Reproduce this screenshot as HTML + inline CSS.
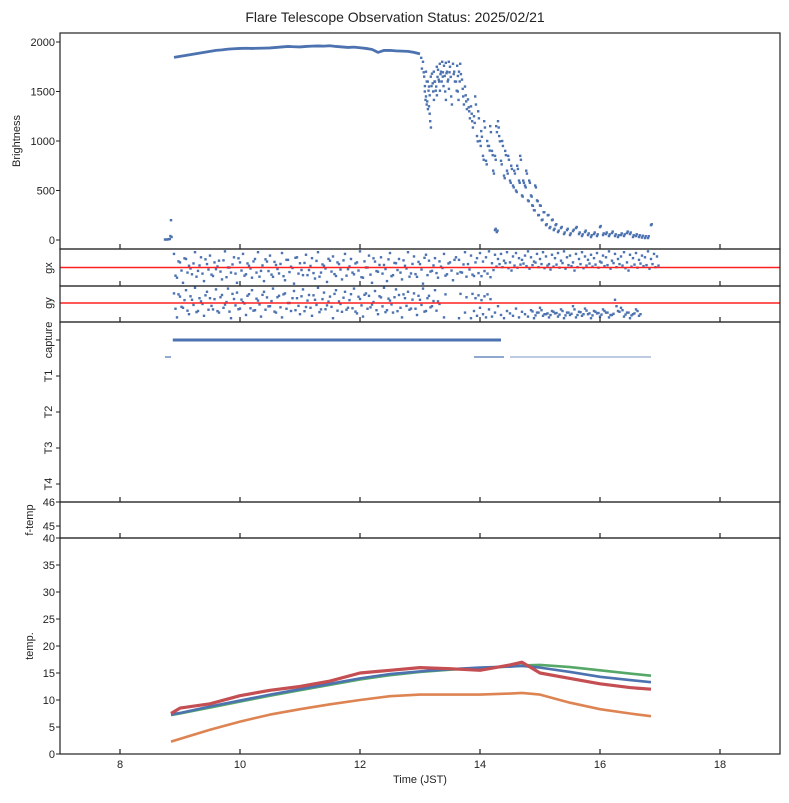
<!DOCTYPE html>
<html><head><meta charset="utf-8"><style>
body{margin:0;background:#fff}
svg text{font-family:"Liberation Sans",sans-serif;fill:#222}
</style></head><body>
<svg id="c" width="789" height="798" viewBox="0 0 789 798" xmlns="http://www.w3.org/2000/svg">
<text x="395" y="22" font-size="14" text-anchor="middle">Flare Telescope Observation Status: 2025/02/21</text>
<g id="marks"></g>
<g id="axes"></g>
</svg>
<script>
const xTicks=[8,10,12,14,16,18];
const bTicksV=[0,500,1000,1500,2000];
const tempTicks=[0,5,10,15,20,25,30,35,40];
// brightness plateau (8.9..13.0 step 0.1)
const plateauStart=8.9;
const plateauVals=[1845,1855,1865,1875,1885,1895,1905,1915,1920,1928,1932,1935,1937,1935,1937,1938,1940,1945,1950,1955,1952,1950,1955,1958,1960,1958,1962,1955,1950,1945,1948,1942,1935,1925,1895,1915,1915,1910,1908,1905,1895,1880];
const earlyT=[8.75,8.77,8.79,8.81,8.83,8.84,8.85,8.86];
const earlyV=[5,5,5,8,10,40,200,30];
const scatT=[13.02,13.05,13.07,13.08,13.1,13.1,13.12,13.13,13.15,13.15,13.17,13.18,13.2,13.22,13.23,13.25,13.27,13.28,13.3,13.32,13.33,13.35,13.37,13.38,13.4,13.42,13.43,13.45,13.47,13.48,13.5,13.52,13.55,13.57,13.6,13.62,13.63,13.65,13.67,13.7,13.72,13.75,13.77,13.8,13.82,13.85,13.87,13.9,13.92,13.95,13.97,14.0,14.02,14.05,14.07,14.1,14.12,14.15,14.17,14.2,14.22,14.25,14.27,14.3,14.32,14.35,14.37,14.4,14.42,14.45,14.47,14.5,14.52,14.55,14.57,14.6,14.62,14.65,14.67,14.7,14.72,14.75,14.77,14.8,14.82,14.85,14.87,14.9,14.92,14.95,14.97,15.0,15.03,15.06,15.1,15.13,15.16,15.2,15.23,15.26,15.3,15.35,15.4,15.45,15.5,15.55,15.6,15.65,15.7,15.75,15.8,15.85,15.9,15.95,16.0,16.05,16.1,16.15,16.2,16.25,16.3,16.35,16.4,16.45,16.5,16.55,16.6,16.65,16.7,16.75,16.8,16.85,14.25,14.28,14.3,14.33];
const scatV=[1840,1800,1650,1500,1700,1450,1400,1600,1350,1550,1200,1650,1680,1500,1700,1600,1550,1750,1720,1600,1780,1700,1800,1650,1760,1500,1790,1700,1620,1800,1750,1450,1780,1700,1600,1760,1500,1700,1780,1620,1450,1550,1400,1420,1300,1350,1200,1250,1450,1050,1300,1000,1100,850,1200,800,1000,950,1150,900,700,850,1150,1200,1050,800,1000,650,900,700,850,600,750,550,700,500,750,600,850,450,600,550,700,400,600,450,350,300,550,400,250,350,200,280,150,250,120,200,100,150,80,120,60,100,50,90,120,60,40,80,50,30,60,40,130,50,60,40,70,40,30,50,40,70,60,30,40,30,25,20,20,150,100,80];
// guider gx/gy: times 8.9 step 0.05 (160 samples), normalized offset -1..1
const gStart=8.9, gStep=0.05;
const gxVals=[0.8,-0.6,0.3,-0.9,0.5,0.1,-0.4,0.9,-0.2,0.6,-0.8,0.2,0.7,-0.5,-0.1,0.4,-0.7,0.95,0.0,-0.3,0.6,-0.9,0.3,0.8,-0.4,0.1,-0.6,0.5,0.9,-0.2,-0.8,0.35,0.7,-0.55,0.15,-0.35,0.85,-0.75,0.45,0.05,-0.95,0.6,0.25,-0.45,0.75,-0.15,0.55,-0.65,0.9,-0.3,0.1,-0.85,0.4,0.65,-0.5,0.2,-0.7,0.8,-0.1,0.5,-0.4,0.3,0.95,-0.6,0.0,0.7,-0.9,0.35,-0.25,0.6,0.15,-0.8,0.85,-0.45,0.25,0.5,-0.7,0.1,0.9,-0.35,0.65,-0.55,0.2,-0.95,0.75,0.4,-0.2,0.55,-0.6,0.05,0.8,-0.4,0.3,-0.75,0.6,0.45,-0.3,0.9,0.2,0.7,-0.5,0.55,0.85,0.35,0.6,0.95,0.25,0.75,0.5,0.8,0.4,0.9,0.3,0.65,0.85,0.55,0.45,0.7,0.95,0.6,0.35,0.8,0.5,0.9,0.65,0.2,0.75,0.55,0.85,0.4,0.95,0.6,0.7,0.3,0.8,0.5,0.9,0.65,0.45,0.75,0.55,0.85,0.35,0.7,0.6,0.95,0.4,0.8,0.5,0.65,0.9,0.3,0.75,0.55,0.85,0.45,0.7,0.6,0.95,0.5,0.8,0.65];
const gyVals=[0.6,-0.9,0.4,-0.3,0.8,-0.7,0.2,0.95,-0.5,0.1,-0.8,0.7,0.3,-0.4,0.85,-0.6,0.5,-0.1,0.9,-0.95,0.25,0.65,-0.35,0.05,-0.75,0.55,0.8,-0.45,0.15,-0.85,0.7,0.35,-0.2,0.9,-0.6,0.45,-0.9,0.6,0.0,-0.5,0.75,0.3,-0.7,0.85,-0.25,0.5,-0.8,0.2,0.95,-0.4,0.65,-0.15,0.4,-0.95,0.8,0.1,-0.55,0.7,-0.3,0.55,0.9,-0.65,0.25,-0.85,0.6,0.45,-0.1,0.75,-0.7,0.35,0.95,-0.45,0.15,-0.6,0.85,0.5,-0.9,0.3,0.7,-0.35,0.6,-0.75,0.2,0.9,-0.5,0.45,-0.2,0.8,0.1,null,-0.9,null,null,null,null,-0.95,null,-0.6,null,-0.95,-0.5,-0.8,-0.3,-0.7,-0.9,-0.4,-0.85,-0.6,-0.2,-0.75,-0.95,-0.5,-0.65,-0.8,-0.35,-0.9,-0.55,-0.7,-0.85,-0.45,-0.95,-0.6,-0.3,-0.8,-0.7,-0.9,-0.5,-0.65,-0.85,-0.4,-0.95,-0.6,-0.75,-0.2,-0.9,-0.55,-0.8,-0.35,-0.7,-0.95,-0.5,-0.65,-0.85,-0.4,-0.6,-0.9,-0.75,0.2,-0.5,-0.3,-0.85,-0.6,-0.95,-0.7,-0.4,-0.8];
// capture segments
const capStart=[8.88], capEnd=[14.35];
const t1Start=[8.75,13.9,14.5], t1End=[8.85,14.4,16.85];
// temperatures
const tempT=[8.85,9,9.5,10,10.5,11,11.5,12,12.5,13,13.5,14,14.5,14.7,15,15.5,16,16.5,16.85];
const tempBlue=[7.3,7.6,8.8,9.9,11,12,13,14,14.8,15.3,15.7,16,16.2,16.3,16,15.2,14.3,13.7,13.3];
const tempGreen=[7.2,7.5,8.6,9.7,10.8,11.8,12.8,13.8,14.6,15.2,15.6,15.9,16.2,16.4,16.5,16.1,15.5,14.9,14.5];
const tempRed=[7.5,8.5,9.3,10.8,11.8,12.5,13.5,15,15.5,16,15.8,15.5,16.5,17,15,14,13,12.3,12];
const tempOrange=[2.3,2.8,4.5,6,7.3,8.3,9.2,10,10.7,11,11,11,11.2,11.3,11,9.5,8.3,7.5,7];

const NS="http://www.w3.org/2000/svg";
const L=60,R=780;
const X=t=>L+(t-7)*(R-L)/12;
const panels=[[33,249],[249,286],[286,322],[322,502],[502,538],[538,754]];
const yB=v=>240-v*(198/2000);
const yGx=v=>267.5-v*17;
const yGy=v=>303-v*16;
const yT=v=>754-v*(216/40);
const marks=document.getElementById('marks'), axes=document.getElementById('axes');
function mk(tag,attrs,parent){const e=document.createElementNS(NS,tag);for(const k in attrs)e.setAttribute(k,attrs[k]);parent.appendChild(e);return e;}
const BLUE='#4c72b0';
function dot(t,y,name){if(!isFinite(y)||!isFinite(t))return;const e=mk('rect',{x:X(t)-1.2,y:y-1.2,width:2.4,height:2.4,fill:BLUE},marks);

}
// brightness
const pp=plateauVals.map((v,i)=>X(plateauStart+i*0.1)+','+yB(v)).join(' ');
const pl=mk('polyline',{points:pp,fill:'none',stroke:BLUE,'stroke-width':2.8},marks);


earlyT.forEach((t,i)=>dot(t,yB(earlyV[i]),'brightness-point'));
scatT.forEach((t,i)=>{if(scatV[i]===undefined)return;dot(t,yB(scatV[i]),'brightness-point');dot(t+0.012,yB(scatV[i]*0.93+20),'brightness-point');});
// guider
gxVals.forEach((v,i)=>{if(v===null)return;const t=gStart+i*gStep;dot(t,yGx(v),'gx-point');dot(t+0.025,yGx(-v*0.6+(v>0.3&&t>14.2?0.5:0)),'gx-point');});
gyVals.forEach((v,i)=>{if(v===null)return;const t=gStart+i*gStep;dot(t,yGy(v),'gy-point');if(t<14.2||t>14.8)dot(t+0.025,yGy(t>14.8?v*0.5-0.3:-v*0.6),'gy-point');});
[[249,286,267.5,'gx-reference-line'],[286,322,303,'gy-reference-line']].forEach(([a,b,y,n])=>{
const l=mk('line',{x1:L,x2:R,y1:y,y2:y,stroke:'#ff2020','stroke-width':1.5},marks);

});
// capture
capStart.forEach((s,i)=>{const l=mk('line',{x1:X(s),x2:X(capEnd[i]),y1:340,y2:340,stroke:BLUE,'stroke-width':3},marks);

});
t1Start.forEach((s,i)=>{const l=mk('line',{x1:X(s),x2:X(t1End[i]),y1:357,y2:357,stroke:BLUE,'stroke-width':i===2?0.8:1.2},marks);

});
// temps
[[tempGreen,'#55a868','temp-green'],[tempBlue,BLUE,'temp-blue'],[tempOrange,'#dd8452','temp-orange'],[tempRed,'#c44e52','temp-red']].forEach(([arr,c,n])=>{
const l=mk('polyline',{points:arr.map((v,i)=>X(tempT[i])+','+yT(v)).join(' '),fill:'none',stroke:c,'stroke-width':n==='temp-red'?3.2:2.6,'stroke-linejoin':'round'},marks);

});
// axes frames
const pnames=['brightness-panel','gx-panel','gy-panel','status-panel','f-temp-panel','temp-panel'];
panels.forEach(([a,b],i)=>{const r=mk('rect',{x:L,y:a,width:R-L,height:b-a,fill:'none',stroke:'#222','stroke-width':1.2},axes);


xTicks.forEach(t=>{mk('line',{x1:X(t),x2:X(t),y1:b,y2:b-5,stroke:'#222','stroke-width':1.2},axes);});});
function txt(s,x,y,opts,name){const e=mk('text',Object.assign({x:x,y:y,'font-size':11},opts||{}),axes);e.textContent=s;

return e;}
xTicks.forEach(t=>txt(String(t),X(t),768,{'text-anchor':'middle'},'x-tick-label'));
txt('Time (JST)',420,783,{'text-anchor':'middle'},'x-axis-title');
bTicksV.forEach(v=>{mk('line',{x1:L,x2:L-4,y1:yB(v),y2:yB(v),stroke:'#222'},axes);txt(String(v),55,yB(v)+4,{'text-anchor':'end'},'brightness-tick-label');});
tempTicks.forEach(v=>{mk('line',{x1:L,x2:L-4,y1:yT(v),y2:yT(v),stroke:'#222'},axes);txt(String(v),55,yT(v)+4,{'text-anchor':'end'},'temp-tick-label');});
[[46,502],[45,526]].forEach(([v,y])=>{mk('line',{x1:L,x2:L-4,y1:y,y2:y,stroke:'#222'},axes);txt(String(v),55,y+4,{'text-anchor':'end'},'f-temp-tick-label');});
[340,376,412,448,484].forEach(y=>mk('line',{x1:L,x2:L-4,y1:y,y2:y,stroke:'#222'},axes));
function vlab(s,x,y,name){txt(s,x,y,{'text-anchor':'middle',transform:`rotate(-90 ${x} ${y})`},name);}
vlab('Brightness',20,141,'brightness-axis-title');
vlab('gx',52,268,'gx-axis-title');
vlab('gy',52,303,'gy-axis-title');
vlab('capture',52,340,'capture-label');
vlab('T1',52,376,'t1-label');
vlab('T2',52,412,'t2-label');
vlab('T3',52,448,'t3-label');
vlab('T4',52,484,'t4-label');
vlab('f-temp',33,520,'f-temp-axis-title');
vlab('temp.',33,646,'temp-axis-title');
</script>
</body></html>
